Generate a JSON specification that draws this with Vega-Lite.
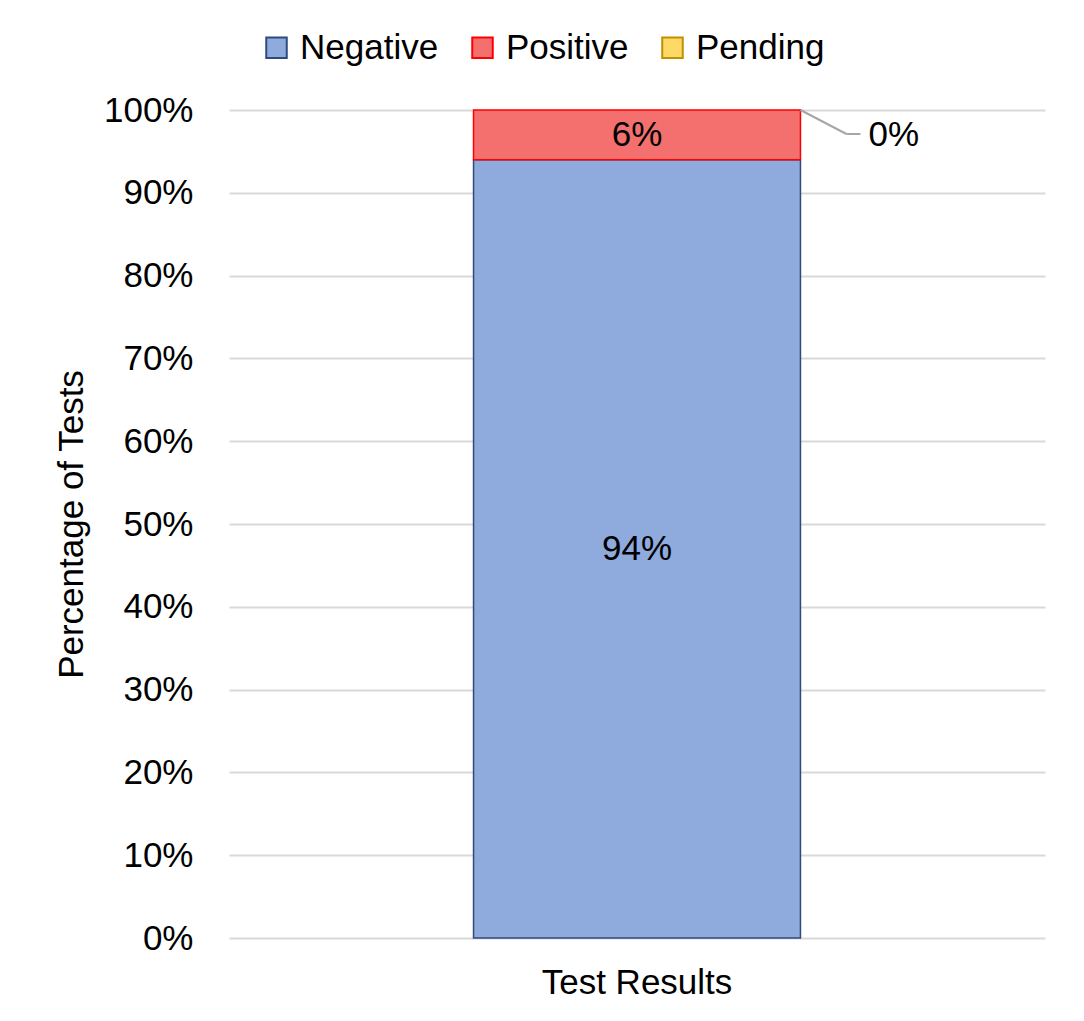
{
  "$schema": "https://vega.github.io/schema/vega-lite/v6.json",
  "width": 816,
  "height": 828,
  "autosize": "none",
  "padding": {"left": 229, "top": 110, "right": 39, "bottom": 83},
  "background": "white",
  "config": {
    "view": {"stroke": null},
    "font": "Liberation Sans"
  },
  "data": {
    "values": [
      {"Category": "Test Results", "Result": "Negative", "Share": 0.94},
      {"Category": "Test Results", "Result": "Positive", "Share": 0.06},
      {"Category": "Test Results", "Result": "Pending", "Share": 0}
    ]
  },
  "transform": [
    {"calculate": "indexof(['Negative','Positive','Pending'], datum.Result)", "as": "rank"},
    {"stack": "Share", "groupby": ["Category"], "sort": [{"field": "rank", "order": "ascending"}], "as": ["y0", "y1"]},
    {"calculate": "(datum.y0 + datum.y1) / 2", "as": "ymid"}
  ],
  "encoding": {
    "x": {
      "field": "Category", "type": "nominal",
      "scale": {"paddingInner": 0, "paddingOuter": 0.748},
      "axis": {"title": null, "labelAngle": 0, "labelFontSize": 35, "labelColor": "#000000", "labelPadding": 27, "labelLimit": 0, "ticks": false, "domain": false, "labelFont": "Liberation Sans"}
    }
  },
  "layer": [
    {
      "transform": [{"filter": "datum.Share > 0"}],
      "mark": {"type": "bar", "strokeWidth": 1.5},
      "encoding": {
        "y": {
          "field": "y0", "type": "quantitative",
          "scale": {"domain": [0, 1], "nice": false},
          "axis": {
            "title": "Percentage of Tests", "titleFontSize": 35, "titleFontWeight": "normal", "titleColor": "#000000", "titlePadding": 14,
            "values": [0, 0.1, 0.2, 0.3, 0.4, 0.5, 0.6, 0.7, 0.8, 0.9, 1],
            "format": ".0%",
            "labelFontSize": 35, "labelColor": "#000000", "labelPadding": 36,
            "ticks": false, "domain": false,
            "grid": true, "gridColor": "#d9d9d9", "gridWidth": 2
          }
        },
        "y2": {"field": "y1"},
        "fill": {
          "field": "Result", "type": "nominal",
          "scale": {"domain": ["Negative", "Positive", "Pending"], "range": ["#8faadc", "#f4706f", "#ffd966"]},
          "legend": {
            "title": null, "orient": "none", "legendX": 30, "legendY": -80, "direction": "horizontal",
            "symbolType": "square", "symbolSize": 420, "symbolStrokeWidth": 2,
            "labelFontSize": 35, "labelColor": "#000000", "labelOffset": 6, "columnPadding": 26,
            "labelFont": "Liberation Sans"
          }
        },
        "stroke": {
          "field": "Result", "type": "nominal",
          "scale": {"domain": ["Negative", "Positive", "Pending"], "range": ["#2f4b7c", "#ff0000", "#bf9000"]},
          "legend": {
            "title": null, "orient": "none", "legendX": 30, "legendY": -80, "direction": "horizontal",
            "symbolType": "square", "symbolSize": 420, "symbolStrokeWidth": 2,
            "labelFontSize": 35, "labelColor": "#000000", "labelOffset": 6, "columnPadding": 26,
            "labelFont": "Liberation Sans"
          }
        }
      }
    },
    {
      "transform": [{"filter": "datum.Share > 0"}],
      "mark": {"type": "text", "fontSize": 35, "color": "#000000", "align": "center", "baseline": "middle"},
      "encoding": {
        "y": {"field": "ymid", "type": "quantitative"},
        "text": {"field": "Share", "type": "quantitative", "format": ".0%"}
      }
    },
    {
      "transform": [{"filter": "datum.Result == 'Pending'"}],
      "mark": {"type": "rule", "color": "#a6a6a6", "strokeWidth": 2, "x2Offset": 46, "y2Offset": 24},
      "encoding": {
        "x": {"field": "Category", "type": "nominal", "bandPosition": 1},
        "x2": {"field": "Category", "bandPosition": 1},
        "y": {"field": "y1", "type": "quantitative"},
        "y2": {"field": "y1"}
      }
    },
    {
      "transform": [{"filter": "datum.Result == 'Pending'"}],
      "mark": {"type": "rule", "color": "#a6a6a6", "strokeWidth": 2, "xOffset": 46, "x2Offset": 60, "yOffset": 24, "y2Offset": 24},
      "encoding": {
        "x": {"field": "Category", "type": "nominal", "bandPosition": 1},
        "x2": {"field": "Category", "bandPosition": 1},
        "y": {"field": "y1", "type": "quantitative"},
        "y2": {"field": "y1"}
      }
    },
    {
      "transform": [{"filter": "datum.Result == 'Pending'"}],
      "mark": {"type": "text", "fontSize": 35, "color": "#000000", "align": "left", "baseline": "middle", "dx": 68, "dy": 25},
      "encoding": {
        "x": {"field": "Category", "type": "nominal", "bandPosition": 1},
        "y": {"field": "y1", "type": "quantitative"},
        "text": {"field": "Share", "type": "quantitative", "format": ".0%"}
      }
    }
  ]
}
